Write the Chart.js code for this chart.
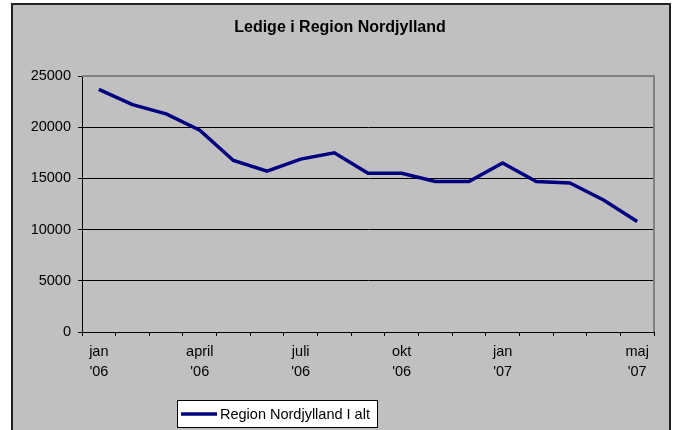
<!DOCTYPE html>
<html>
<head>
<meta charset="utf-8">
<script src="https://cdn.jsdelivr.net/npm/chart.js@4"></script>
<style>
  html, body { margin: 0; padding: 0; background: #fff; }
  #wrap { width: 674px; height: 430px; position: relative; }
</style>
</head>
<body>
<div id="wrap"><canvas id="ledige" width="674" height="430"></canvas></div>
<script>
/************** data ****************/
const months = [
    ["jan", "'06"], "", "", ["april", "'06"], "", "", ["juli", "'06"], "", "",
    ["okt", "'06"], "", "", ["jan", "'07"], "", "", "", ["maj", "'07"]
];
const ledige = [23700, 22200, 21300, 19700, 16750, 15700, 16880, 17500, 15500,
    15500, 14700, 14700, 16500, 14700, 14550, 12900, 10800];
const yTicks = [0, 5000, 10000, 15000, 20000, 25000];
const seriesName = "Region Nordjylland I alt";
const chartTitle = "Ledige i Region Nordjylland";

const NAVY = "#000080";
const FONT = "'Liberation Sans', Arial, sans-serif";

/************** plugins ****************/
// grey Excel frame behind everything
const frame = {
    id: "frame",
    beforeDraw(chart) {
        const ctx = chart.ctx;
        ctx.save();
        ctx.fillStyle = "#fff";
        ctx.fillRect(0, 0, chart.width, chart.height);
        ctx.fillStyle = "#222";
        ctx.fillRect(11, 3, 660, 440);
        ctx.fillStyle = "#c0c0c0";
        ctx.fillRect(13, 5, 656, 440);
        ctx.restore();
    },
    beforeDatasetsDraw(chart) {
        const a = chart.chartArea;
        const ctx = chart.ctx;
        ctx.save();
        ctx.strokeStyle = "#808080";
        ctx.lineWidth = 2;
        ctx.beginPath();
        ctx.moveTo(a.left, a.top);
        ctx.lineTo(a.right, a.top);
        ctx.lineTo(a.right, a.bottom);
        ctx.stroke();
        ctx.restore();
    },
    afterDraw(chart) {
        // boxed legend like the original
        const ctx = chart.ctx;
        const ds = chart.data.datasets[0];
        ctx.save();
        ctx.fillStyle = "#fff";
        ctx.fillRect(177, 400, 201, 28);
        ctx.strokeStyle = "#000";
        ctx.lineWidth = 1;
        ctx.strokeRect(177.5, 400.5, 200, 27);
        ctx.strokeStyle = ds.borderColor;
        ctx.lineWidth = 3.5;
        ctx.beginPath();
        ctx.moveTo(181, 414);
        ctx.lineTo(217, 414);
        ctx.stroke();
        ctx.fillStyle = "#000";
        ctx.font = "14.5px " + FONT;
        ctx.textBaseline = "middle";
        ctx.fillText(ds.label, 220, 414.5);
        ctx.restore();
    }
};

/************** chart ****************/
const config = {
    type: "line",
    data: {
        labels: months,
        datasets: [{
            label: seriesName,
            data: ledige,
            borderColor: NAVY,
            backgroundColor: NAVY,
            borderWidth: 3.5,
            pointRadius: 0,
            tension: 0
        }]
    },
    options: {
        responsive: false,
        animation: false,
        layout: { padding: { left: 26, right: 20, top: 0, bottom: 0 } },
        plugins: {
            legend: { display: false },
            tooltip: { enabled: false },
            title: {
                display: true,
                text: chartTitle,
                color: "#000",
                font: { family: FONT, size: 16, weight: "bold" },
                padding: { top: 17.5, bottom: 39.3 }
            }
        },
        scales: {
            x: {
                offset: true,
                grid: {
                    offset: true,
                    drawOnChartArea: false,
                    drawTicks: true,
                    tickLength: 4,
                    tickColor: "#000"
                },
                border: { color: "#000", width: 1 },
                ticks: {
                    autoSkip: false,
                    maxRotation: 0,
                    padding: 6,
                    color: "#000",
                    font: { family: FONT, size: 14.5, lineHeight: 1.38 }
                },
                afterFit: (scale) => { scale.height = 98; }
            },
            y: {
                min: 0,
                max: 25000,
                afterBuildTicks: (scale) => { scale.ticks = yTicks.map(v => ({ value: v })); },
                grid: {
                    color: (c) => c.tick && c.tick.value === 25000 ? "#808080" : "#000",
                    tickColor: "#000",
                    tickLength: 4
                },
                border: { color: "#000", width: 1 },
                ticks: {
                    padding: 7,
                    color: "#000",
                    font: { family: FONT, size: 14.5 },
                    callback: (v) => String(v)
                },
                afterFit: (scale) => { scale.width = 56; }
            }
        }
    },
    plugins: [frame]
};

const myChart = new Chart(document.getElementById("ledige"), config);
</script>
</body>
</html>
